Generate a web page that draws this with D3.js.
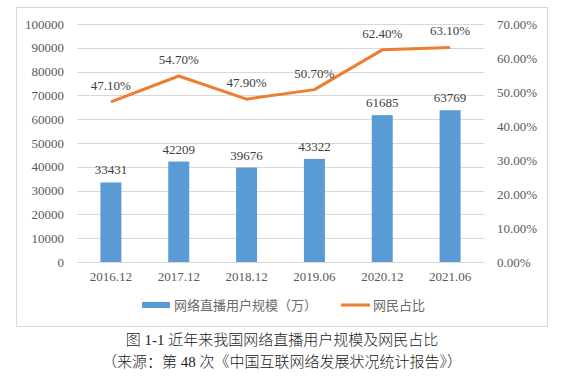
<!DOCTYPE html>
<html>
<head>
<meta charset="utf-8">
<script src="https://cdn.jsdelivr.net/npm/d3@7/dist/d3.min.js"></script>
<style>
  body { margin: 0; background: #fff; }
  svg text { font-family: "Liberation Serif", "Noto Sans CJK SC", serif; }
</style>
</head>
<body>
<div id="chart"></div>
<script>
// data
var categories = ["2016.12", "2017.12", "2018.12", "2019.06", "2020.12", "2021.06"];
var users = [33431, 42209, 39676, 43322, 61685, 63769];
var share = [0.471, 0.547, 0.479, 0.507, 0.624, 0.631];
var leftTicks = [0, 10000, 20000, 30000, 40000, 50000, 60000, 70000, 80000, 90000, 100000];
var rightTicks = [0, 0.1, 0.2, 0.3, 0.4, 0.5, 0.6, 0.7];
var legendLabels = ["网络直播用户规模（万）", "网民占比"];
var captions = ["图 1-1  近年来我国网络直播用户规模及网民占比", "（来源：第 48 次《中国互联网络发展状况统计报告》）"];

var W = 568, H = 378;
var margin = {top: 24, right: 84, bottom: 116, left: 77};
var width = 484 - margin.left, height = 262 - margin.top;

var svg = d3.select("#chart").append("svg")
    .attr("width", W)
    .attr("height", H);

// chart frame
svg.append("rect")
    .attr("x", 16.5).attr("y", 7.5)
    .attr("width", 531).attr("height", 319)
    .attr("fill", "#fff")
    .attr("stroke", "#d9d9d9");

var g = svg.append("g")
    .attr("transform", "translate(" + margin.left + "," + margin.top + ")");

var x = d3.scaleBand().domain(categories).range([0, width]);
var yL = d3.scaleLinear().domain([0, 100000]).range([height, 0]);
var yR = d3.scaleLinear().domain([0, 0.7]).range([height, 0]);

// gridlines
g.selectAll(".grid")
    .data(leftTicks)
    .enter().append("line")
    .attr("x1", 0).attr("x2", width)
    .attr("y1", function(d) { return Math.round(yL(d)) + 0.5; })
    .attr("y2", function(d) { return Math.round(yL(d)) + 0.5; })
    .attr("stroke", "#d9d9d9")
    .attr("stroke-width", 1);

// left axis
var axisL = g.append("g")
    .call(d3.axisLeft(yL).tickValues(leftTicks).tickSize(0).tickPadding(13).tickFormat(d3.format("d")));
axisL.select(".domain").remove();
axisL.selectAll("text").attr("font-size", 13).attr("fill", "#595959")
    .attr("font-family", "Liberation Serif");

// right axis
var axisR = g.append("g")
    .attr("transform", "translate(" + width + ",0)")
    .call(d3.axisRight(yR).tickValues(rightTicks).tickSize(0).tickPadding(13).tickFormat(d3.format(".2%")));
axisR.select(".domain").remove();
axisR.selectAll("text").attr("font-size", 13).attr("fill", "#595959")
    .attr("font-family", "Liberation Serif");

// x axis
var axisX = g.append("g")
    .attr("transform", "translate(0," + height + ")")
    .call(d3.axisBottom(x).tickSize(0).tickPadding(10));
axisX.select(".domain").remove();
axisX.selectAll("text").attr("font-size", 13).attr("fill", "#595959")
    .attr("font-family", "Liberation Serif");

// bars
var barW = 21;
g.selectAll(".bar")
    .data(users)
    .enter().append("rect")
    .attr("x", function(d, i) { return x(categories[i]) + x.bandwidth() / 2 - barW / 2; })
    .attr("y", function(d) { return yL(d); })
    .attr("width", barW)
    .attr("height", function(d) { return height - yL(d); })
    .attr("fill", "#5b9bd5");

g.selectAll(".barlabel")
    .data(users)
    .enter().append("text")
    .attr("x", function(d, i) { return x(categories[i]) + x.bandwidth() / 2; })
    .attr("y", function(d) { return yL(d) - 8; })
    .attr("text-anchor", "middle")
    .attr("font-size", 13)
    .attr("fill", "#404040")
    .text(function(d) { return d; });

// line
var line = d3.line()
    .x(function(d, i) { return x(categories[i]) + x.bandwidth() / 2; })
    .y(function(d) { return yR(d); });

g.append("path")
    .datum(share)
    .attr("d", line)
    .attr("fill", "none")
    .attr("stroke", "#ed7d31")
    .attr("stroke-width", 3)
    .attr("stroke-linejoin", "round");

g.selectAll(".linelabel")
    .data(share)
    .enter().append("text")
    .attr("x", function(d, i) { return x(categories[i]) + x.bandwidth() / 2; })
    .attr("y", function(d) { return yR(d) - 12; })
    .attr("text-anchor", "middle")
    .attr("font-size", 13)
    .attr("fill", "#404040")
    .text(function(d) { return d3.format(".2%")(d); });

// legend
var lg = svg.append("g").attr("transform", "translate(0,305)");
lg.append("rect").attr("x", 142).attr("y", -3).attr("width", 28).attr("height", 6).attr("fill", "#5b9bd5");
lg.append("text").attr("x", 174).attr("y", 0).attr("dy", "0.35em")
    .attr("font-size", 13).attr("fill", "#6b6b6b")
    .attr("font-family", "Noto Sans CJK SC")
    .text(legendLabels[0]);
lg.append("line").attr("x1", 341).attr("x2", 370).attr("y1", 0).attr("y2", 0)
    .attr("stroke", "#ed7d31").attr("stroke-width", 3);
lg.append("text").attr("x", 373).attr("y", 0).attr("dy", "0.35em")
    .attr("font-size", 13).attr("fill", "#6b6b6b")
    .attr("font-family", "Noto Sans CJK SC")
    .text(legendLabels[1]);

// caption
svg.selectAll(".caption")
    .data(captions)
    .enter().append("text")
    .attr("x", 282)
    .attr("y", function(d, i) { return 340 + i * 22; })
    .attr("dy", "0.35em")
    .attr("text-anchor", "middle")
    .attr("font-size", 15)
    .attr("font-weight", 300)
    .attr("fill", "#222")
    .attr("font-family", "Noto Sans CJK SC")
    .text(function(d) { return d; });
</script>
</body>
</html>
